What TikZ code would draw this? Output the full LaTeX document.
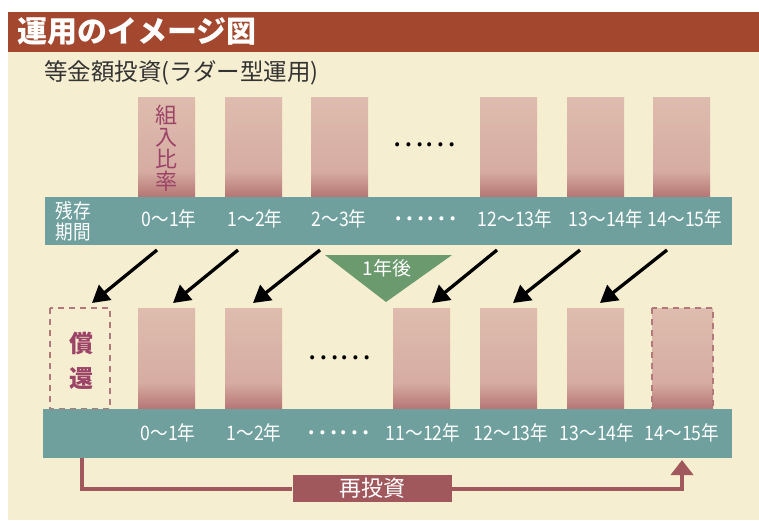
\documentclass[tikz,border=0pt]{standalone}
\usepackage{fontspec}
\newfontfamily\jp{Noto Sans CJK JP}
\newfontfamily\jpc[FakeStretch=0.88]{Noto Sans CJK JP}
\usetikzlibrary{arrows.meta}
\definecolor{cream}{HTML}{F6EED0}
\definecolor{titlebar}{HTML}{A3472F}
\definecolor{teal}{HTML}{6FA09E}
\definecolor{barlight}{HTML}{DEBCAE}
\definecolor{barmid}{HTML}{D6ACA2}
\definecolor{bardark}{HTML}{B57574}
\definecolor{rose}{HTML}{A0585C}
\definecolor{rosetext}{HTML}{9C4468}
\definecolor{dashrose}{HTML}{B3787A}
\definecolor{tgreen}{HTML}{6B9A6E}
\definecolor{subgray}{HTML}{333333}
\pgfdeclareverticalshading{barshade}{100bp}{color(0bp)=(bardark); color(25bp)=(bardark); color(38bp)=(barmid); color(75bp)=(barlight); color(100bp)=(barlight)}
\begin{document}
\begin{tikzpicture}[x=1pt,y=-1pt,
  bar/.style={shading=barshade},
  dashbox/.style={draw=dashrose,line width=2.2pt,dash pattern=on 6pt off 5pt},
  band/.style={fill=teal},
  bandtxt/.style={font=\jpc\fontsize{20}{21}\selectfont,text=white,inner sep=0pt},
  darrow/.style={line width=3.3pt,-{Triangle[length=17pt,width=19pt]}},
  reinv/.style={draw=rose,line width=4pt},
  dots/.style={font=\jp\fontsize{30}{30}\selectfont,inner sep=0pt}]
\useasboundingbox (0,0) rectangle (759,520);
\fill[white] (0,0) rectangle (759,520);
\fill[cream] (8,12) rectangle (759,520);
% title
\fill[titlebar] (8,12) rectangle (759,52);
\node[anchor=west,inner sep=0pt,text=white,font=\jp\bfseries\fontsize{30}{30}\selectfont] (title) at (17,32) {運用のイメージ図};
\node[anchor=west,inner sep=0pt,text=subgray,font=\jp\fontsize{23.5}{24}\selectfont] (sub) at (44,73) {等金額投資(ラダー型運用)};
% top bars
\foreach \i/\x in {1/138,2/225,3/311,4/480,5/567,6/653}{
  \shade[bar] (\x,97) rectangle ++(57,100);
  \coordinate (tb\i) at (\x+28.5,147);
}
\node[inner sep=0pt,align=center,text=rosetext,font=\jp\fontsize{22}{22}\selectfont] (kumi) at (166,148) {組\\入\\比\\率};
\node[dots] (tdots) at (424,145) {……};
% top band
\fill[band] (45,197) rectangle (732,245);
\node[bandtxt,align=center,font=\jpc\fontsize{20}{21}\selectfont] (zan) at (73,221) {残存\\期間};
\node[bandtxt] (u1) at (169,219) {0〜1年};
\node[bandtxt] (u2) at (255,219) {1〜2年};
\node[bandtxt] (u3) at (339,219) {2〜3年};
\node[bandtxt,font=\jp\fontsize{30}{30}\selectfont] (ud) at (425,219) {……};
\node[bandtxt] (u4) at (515,219) {12〜13年};
\node[bandtxt] (u5) at (606,219) {13〜14年};
\node[bandtxt] (u6) at (685,219) {14〜15年};
% triangle
\fill[tgreen] (325,255) -- (452,255) -- (386,302) -- cycle;
\node[inner sep=0pt,text=white,font=\jp\fontsize{19}{19}\selectfont] (after) at (387,268) {1年後};
% lower bars
\foreach \i/\x in {1/138,2/225,3/393,4/480,5/567}{
  \shade[bar] (\x,308) rectangle ++(57,101);
}
\shade[bar] (652,308) rectangle (713,409);
\draw[dashbox] (652,308) rectangle (713,409);
\draw[dashbox] (50,308) rectangle (110,409);
\node[inner sep=0pt,align=center,text=rosetext,font=\jp\bfseries\fontsize{24}{35}\selectfont] (shokan) at (81,361) {償\\還};
\node[dots] (ldots) at (339,358) {……};
% lower band
\fill[band] (43,409) rectangle (732,458);
\node[bandtxt] (d1) at (168,433) {0〜1年};
\node[bandtxt] (d2) at (254,433) {1〜2年};
\node[bandtxt,font=\jp\fontsize{30}{30}\selectfont] (dd) at (338,433) {……};
\node[bandtxt] (d3) at (423,433) {11〜12年};
\node[bandtxt] (d4) at (511,433) {12〜13年};
\node[bandtxt] (d5) at (597,433) {13〜14年};
\node[bandtxt] (d6) at (682,433) {14〜15年};
% arrows
\foreach \i/\sx/\ex in {1/157/92,2/238/173,3/320/253,4/497/432,5/580/513,6/667/600}{
  \coordinate (as\i) at (\sx,250);
  \coordinate (ae\i) at (\ex,303);
  \draw[darrow] (as\i) -- (ae\i);
}
% reinvest
\coordinate (rstart) at (82,458);
\coordinate (rend) at (682,460);
\node[fill=rose,minimum width=159pt,minimum height=27pt,inner sep=0pt,text=white,font=\jp\fontsize{22}{22}\selectfont] (rbox) at (372,488.5) {再投資};
\draw[reinv] (rstart) |- (rbox.west);
\draw[reinv,-{Triangle[length=15pt,width=22pt]}] (rbox.east) -| (rend);
\end{tikzpicture}
\end{document}
